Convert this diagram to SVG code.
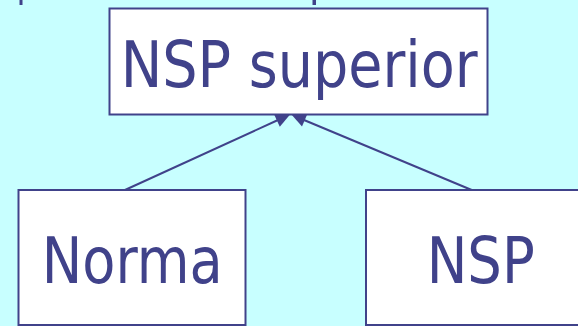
<svg xmlns="http://www.w3.org/2000/svg" width="578" height="326" viewBox="0 0 578 326">
  <style>
    .box { fill: #FFFFFF; stroke: #40428A; stroke-width: 2; }
    .lbl { font-family: "DejaVu Sans", "Liberation Sans", sans-serif; font-size: 64px; fill: #40428A; }
    .conn { stroke: #40428A; stroke-width: 2; fill: none; }
    .head { fill: #40428A; stroke: none; }
  </style>
  <rect x="0" y="0" width="578" height="326" fill="#C8FFFF"/>
  <rect x="19.5" y="0" width="3" height="5" fill="#40428A"/>
  <rect x="312.5" y="0" width="3.5" height="5" fill="#40428A"/>
  <g id="connectors">
    <line class="conn" x1="125" y1="190" x2="278" y2="120"/>
    <polygon class="head" points="290.5,114 273.9,113.9 279.8,126.7"/>
    <line class="conn" x1="471.7" y1="190" x2="304" y2="120"/>
    <polygon class="head" points="291,114 307.6,113.6 302,126.4"/>
  </g>
  <g id="nsp-superior">
    <rect class="box" x="109.5" y="8.5" width="378" height="106"/>
    <text class="lbl" x="120.7" y="87.3" textLength="357" lengthAdjust="spacingAndGlyphs">NSP superior</text>
  </g>
  <g id="norma">
    <rect class="box" x="18.5" y="190" width="227" height="135"/>
    <text class="lbl" x="41.7" y="283.3" textLength="181" lengthAdjust="spacingAndGlyphs">Norma</text>
  </g>
  <g id="nsp">
    <rect class="box" x="366" y="190" width="220" height="135"/>
    <text class="lbl" x="426.7" y="283.3" textLength="108" lengthAdjust="spacingAndGlyphs">NSP</text>
  </g>
</svg>
